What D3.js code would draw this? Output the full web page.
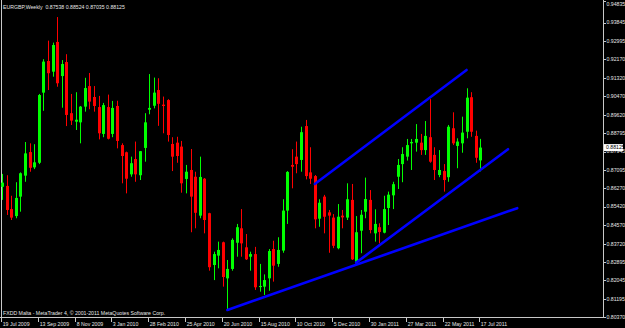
<!DOCTYPE html>
<html>
<head>
<meta charset="utf-8">
<script src="https://cdn.jsdelivr.net/npm/d3@7"></script>
<style>
html,body{margin:0;padding:0;background:#000;}
svg{display:block;}
text{font-family:"Liberation Sans",Arial,sans-serif;}
</style>
</head>
<body>
<svg id="chart" width="625" height="328"></svg>
<script>
const opens  = [0.8633,0.8637,0.8531,0.8499,0.8588,0.8684,0.8792,0.8722,0.8743,0.9064,0.9209,0.9160,0.9296,0.9140,0.9204,0.8970,0.8931,0.8928,0.9000,0.9094,0.9044,0.8998,0.8875,0.8998,0.8875,0.9003,0.8824,0.8791,0.8690,0.8760,0.8686,0.8811,0.8986,0.9004,0.9076,0.9009,0.9030,0.8829,0.8835,0.8817,0.8669,0.8710,0.8679,0.8501,0.8670,0.8512,0.8275,0.8318,0.8379,0.8214,0.8257,0.8377,0.8443,0.8356,0.8313,0.8325,0.8174,0.8176,0.8214,0.8348,0.8280,0.8341,0.8524,0.8733,0.8771,0.8756,0.8911,0.8699,0.8682,0.8487,0.8588,0.8516,0.8492,0.8352,0.8501,0.8492,0.8573,0.8290,0.8432,0.8519,0.8573,0.8420,0.8448,0.8423,0.8536,0.8594,0.8679,0.8737,0.8771,0.8832,0.8835,0.8835,0.8801,0.8860,0.8779,0.8687,0.8705,0.8677,0.8901,0.8820,0.8832,0.8885,0.9043,0.8866,0.87538];
const highs  = [0.8692,0.8686,0.8592,0.8654,0.8699,0.8838,0.8832,0.8828,0.9058,0.9217,0.9302,0.9293,0.9410,0.9213,0.9240,0.9058,0.9066,0.9003,0.9132,0.9154,0.9094,0.9049,0.9017,0.9055,0.9026,0.9027,0.8832,0.8794,0.8771,0.8840,0.8797,0.8970,0.9149,0.9133,0.9130,0.9046,0.9034,0.8860,0.8862,0.8843,0.8733,0.8806,0.8702,0.8771,0.8673,0.8514,0.8336,0.8382,0.8382,0.8298,0.8397,0.8463,0.8531,0.8417,0.8336,0.8358,0.8280,0.8232,0.8348,0.8386,0.8402,0.8576,0.8705,0.8805,0.8840,0.8908,0.8939,0.8814,0.8687,0.8576,0.8596,0.8527,0.8508,0.8554,0.8527,0.8649,0.8646,0.8499,0.8527,0.8675,0.8618,0.8530,0.8466,0.8592,0.8611,0.8656,0.8760,0.8814,0.8852,0.8852,0.8920,0.8875,0.8934,0.9034,0.8814,0.8801,0.8737,0.8916,0.8974,0.8855,0.8954,0.9084,0.9066,0.8890,0.88524];
const lows   = [0.8573,0.8504,0.8481,0.8489,0.8519,0.8656,0.8702,0.8714,0.8737,0.8981,0.9076,0.9137,0.9091,0.8995,0.8911,0.8916,0.8893,0.8832,0.8977,0.8988,0.8977,0.8850,0.8860,0.8850,0.8860,0.8809,0.8649,0.8603,0.8679,0.8656,0.8664,0.8748,0.8965,0.8992,0.8912,0.8878,0.8840,0.8705,0.8743,0.8606,0.8603,0.8425,0.8443,0.8489,0.8420,0.8249,0.8206,0.8260,0.8176,0.8069,0.8249,0.8313,0.8313,0.8298,0.8249,0.8161,0.8153,0.8138,0.8157,0.8199,0.8267,0.8331,0.8463,0.8626,0.8695,0.8702,0.8667,0.8646,0.8443,0.8450,0.8420,0.8331,0.8352,0.8347,0.8443,0.8481,0.8298,0.8286,0.8329,0.8489,0.8420,0.8382,0.8374,0.8420,0.8458,0.8531,0.8623,0.8654,0.8753,0.8710,0.8794,0.8779,0.8779,0.8743,0.8664,0.8677,0.8611,0.8656,0.8824,0.8718,0.8789,0.8855,0.8862,0.8743,0.87035];
const closes = [0.8652,0.8527,0.8492,0.8582,0.8695,0.8786,0.8720,0.8745,0.9053,0.9206,0.9153,0.9282,0.9107,0.9195,0.8962,0.8936,0.8940,0.9000,0.9085,0.9023,0.9003,0.8878,0.9007,0.8853,0.8994,0.8843,0.8774,0.8670,0.8741,0.8690,0.8796,0.8928,0.8994,0.9064,0.9013,0.9003,0.8870,0.8771,0.8774,0.8649,0.8702,0.8588,0.8514,0.8678,0.8481,0.8265,0.8325,0.8344,0.8220,0.8257,0.8390,0.8448,0.8374,0.8301,0.8325,0.8173,0.8179,0.8206,0.8339,0.8272,0.8344,0.8524,0.8701,0.8725,0.8737,0.8883,0.8682,0.8670,0.8484,0.8560,0.8496,0.8501,0.8363,0.8496,0.8493,0.8576,0.8301,0.8425,0.8505,0.8577,0.8435,0.8463,0.8426,0.8531,0.8597,0.8645,0.8733,0.8783,0.8824,0.8838,0.8852,0.8801,0.8866,0.8748,0.8710,0.8710,0.8664,0.8908,0.8832,0.8840,0.8881,0.9041,0.8885,0.8766,0.88125];

const dateLabels = ["19 Jul 2009","13 Sep 2009","8 Nov 2009","3 Jan 2010","28 Feb 2010","25 Apr 2010","20 Jun 2010","15 Aug 2010","10 Oct 2010","5 Dec 2010","30 Jan 2011","27 Mar 2011","22 May 2011","17 Jul 2011"];
const dateBars = [0,8,16,24,32,40,48,56,64,72,80,88,96,104];
const priceLabels = ["0.94835","0.93845","0.92995","0.92170","0.91320","0.90470","0.89620","0.88795","0.87945","0.87095","0.86270","0.85420","0.84570","0.83720","0.82895","0.82045","0.81195","0.80370"];
const trendStartBar = [49,77,68];
const trendStartPrice = [0.8069,0.8286,0.8646];
const trendEndBar = [112,110,101];
const trendEndPrice = [0.8535,0.8805,0.9168];
const titleText = "EURGBP,Weekly  0.87538 0.88524 0.87035 0.88125";
const footerText = "FXDD Malta - MetaTrader 4, \u00a9 2001-2011 MetaQuotes Software Corp.";
const lastPrice = "0.88125";

const svg = d3.select("#chart");
svg.append("rect").attr("width",625).attr("height",328).attr("fill","#000");

const x = d3.scaleLinear().domain([0,104]).range([2,480.4]);
const y = d3.scaleLinear().domain([0.80370,0.94835]).range([317,1]);

const data = opens.map((o,i)=>({i,o,h:highs[i],l:lows[i],c:closes[i]}));

// frame
const frameColor = "#c8c8c8";
svg.append("line").attr("x1",1.5).attr("x2",1.5).attr("y1",0).attr("y2",317.5).attr("stroke",frameColor).attr("stroke-width",1);
svg.append("line").attr("x1",0).attr("x2",603.5).attr("y1",317.5).attr("y2",317.5).attr("stroke",frameColor).attr("stroke-width",1);
svg.append("line").attr("x1",603.5).attr("x2",603.5).attr("y1",0).attr("y2",317.5).attr("stroke",frameColor).attr("stroke-width",1);

// candles
const g = svg.append("g");
const green = "#00ff00", red = "#ff0000";
g.selectAll("line.wick").data(data).join("line")
  .attr("class","wick")
  .attr("x1",d=>Math.round(x(d.i))+0.5).attr("x2",d=>Math.round(x(d.i))+0.5)
  .attr("y1",d=>y(d.h)).attr("y2",d=>y(d.l))
  .attr("stroke",d=>d.c>=d.o?green:red).attr("stroke-width",1);
g.selectAll("rect.body").data(data).join("rect")
  .attr("class","body")
  .attr("x",d=>Math.round(x(d.i))-1)
  .attr("width",3)
  .attr("y",d=>y(Math.max(d.o,d.c)))
  .attr("height",d=>Math.max(1,Math.abs(y(d.o)-y(d.c))))
  .attr("fill",d=>d.c>=d.o?green:red);

// trend lines
svg.selectAll("line.trend").data(trendStartBar.map((b,k)=>k)).join("line")
  .attr("class","trend")
  .attr("x1",k=>x(trendStartBar[k])).attr("y1",k=>y(trendStartPrice[k]))
  .attr("x2",k=>x(trendEndBar[k])).attr("y2",k=>y(trendEndPrice[k]))
  .attr("stroke","#0000ff").attr("stroke-width",2.6).attr("stroke-linecap","round");

// price axis
const pa = svg.append("g");
priceLabels.forEach(s=>{
  const v = +s, yy = y(v);
  pa.append("line").attr("x1",603).attr("x2",606).attr("y1",Math.round(yy)+0.5).attr("y2",Math.round(yy)+0.5).attr("stroke",frameColor);
  pa.append("text").attr("x",606.5).attr("y",Math.max(yy+1.8,5.5)).attr("fill","#e6e6e6").attr("font-size",5.2).text(s);
});
// last price box
const ly = y(+lastPrice);
pa.append("rect").attr("x",604).attr("y",ly-3.5).attr("width",19).attr("height",7).attr("fill","#ffffff");
pa.append("text").attr("x",606).attr("y",ly+1.8).attr("fill","#000").attr("font-size",5.2).text(lastPrice);

// date axis
const da = svg.append("g");
dateLabels.forEach((s,k)=>{
  const xx = Math.round(x(dateBars[k]))-0.5;
  da.append("line").attr("x1",xx).attr("x2",xx).attr("y1",318).attr("y2",322).attr("stroke",frameColor);
  da.append("text").attr("x",xx+1.2).attr("y",325.5).attr("fill","#e6e6e6").attr("font-size",5.2).text(s);
});

// title and footer
svg.append("text").attr("x",3).attr("y",8.5).attr("fill","#e6e6e6").attr("font-size",5.2).attr("xml:space","preserve").text(titleText);
svg.append("text").attr("x",3).attr("y",315).attr("fill","#e6e6e6").attr("font-size",5.2).text(footerText);
</script>
</body>
</html>
